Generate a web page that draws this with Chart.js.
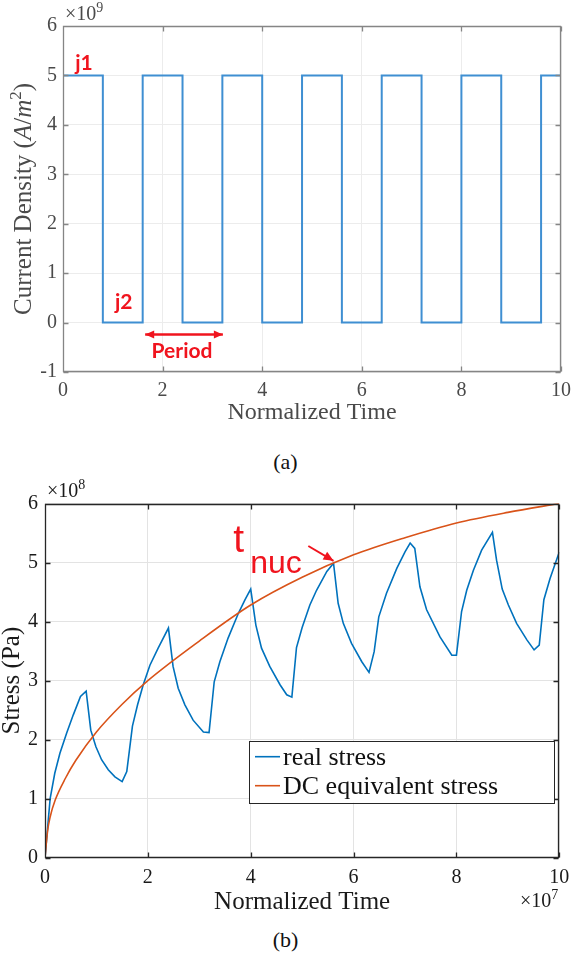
<!DOCTYPE html>
<html>
<head>
<meta charset="utf-8">
<script src="https://cdn.jsdelivr.net/npm/chart.js@4.4.1/dist/chart.umd.min.js"></script>
<style>
  html, body { margin: 0; padding: 0; background: #fff; }
  body { width: 571px; height: 957px; position: relative; overflow: hidden; }
  .box { position: absolute; left: 0; width: 571px; }
  #boxA { top: 0; height: 430px; }
  #boxB { top: 470px; height: 450px; }
  .cap { position: absolute; left: 0; width: 571px; text-align: center; line-height: 26px;
         font: 22px 'Liberation Serif', 'Times New Roman', serif; color: #111; }
</style>
</head>
<body>
<div class="box" id="boxA"><canvas id="chartA"></canvas></div>
<div class="cap" style="top:449px">(a)</div>
<div class="box" id="boxB"><canvas id="chartB"></canvas></div>
<div class="cap" style="top:927px">(b)</div>

<script>
// --- DATA ---
// (a) pulsed current density, y in units of 1e9 A/m^2
const pulseTime    = [0, 0.8, 0.8, 1.6, 1.6, 2.4, 2.4, 3.2, 3.2, 4.0, 4.0, 4.8, 4.8,
                      5.6, 5.6, 6.4, 6.4, 7.2, 7.2, 8.0, 8.0, 8.8, 8.8, 9.6, 9.6, 10];
const pulseDensity = [5, 5, 0, 0, 5, 5, 0, 0, 5, 5, 0, 0, 5,
                      5, 0, 0, 5, 5, 0, 0, 5, 5, 0, 0, 5, 5];

// (b) stress, time in units of 1e7, stress in units of 1e8 Pa
const stressTime = [0, 0.1, 0.19, 0.29, 0.42, 0.55, 0.69, 0.80, 0.89, 0.99, 1.10, 1.23, 1.36, 1.50,
                    1.59, 1.70, 1.80, 1.91, 2.04, 2.20, 2.40, 2.49, 2.59, 2.72, 2.88, 3.08, 3.19,
                    3.29, 3.40, 3.56, 3.76, 3.89, 4.00, 4.10, 4.21, 4.37, 4.57, 4.70, 4.80, 4.89,
                    5.00, 5.15, 5.28, 5.48, 5.61, 5.70, 5.80, 5.96, 6.16, 6.30, 6.40, 6.49, 6.64,
                    6.84, 7.00, 7.10, 7.19, 7.29, 7.42, 7.68, 7.91, 8.00, 8.10, 8.20, 8.33, 8.49,
                    8.70, 8.78, 8.89, 9.01, 9.17, 9.37, 9.51, 9.61, 9.70, 9.82, 10.0];
const realStress = [0, 1.0, 1.43, 1.77, 2.11, 2.42, 2.73, 2.82, 2.16, 1.88, 1.66, 1.49, 1.37, 1.29,
                    1.46, 2.23, 2.59, 2.93, 3.26, 3.55, 3.89, 3.24, 2.87, 2.59, 2.33, 2.13, 2.12,
                    2.98, 3.32, 3.72, 4.14, 4.37, 4.55, 3.94, 3.55, 3.24, 2.93, 2.76, 2.72, 3.56,
                    3.90, 4.28, 4.53, 4.85, 4.99, 4.31, 3.97, 3.63, 3.32, 3.14, 3.49, 4.08, 4.48,
                    4.90, 5.18, 5.33, 5.24, 4.59, 4.20, 3.74, 3.43, 3.43, 4.17, 4.53, 4.87, 5.21,
                    5.51, 5.04, 4.55, 4.28, 3.97, 3.69, 3.52, 3.60, 4.37, 4.73, 5.18];
const dcTime   = [0, 0.05, 0.1, 0.2, 0.4, 0.6, 1, 1.5, 2, 3, 4, 5, 6, 7, 8, 9, 10];
const dcStress = [0, 0.45, 0.69, 0.98, 1.35, 1.65, 2.13, 2.6, 3.0, 3.67, 4.28, 4.75, 5.13, 5.42, 5.67, 5.85, 6.0];

const xTicksA = [0, 2, 4, 6, 8, 10];
const yTicksA = [-1, 0, 1, 2, 3, 4, 5, 6];
const xTicksB = [0, 2, 4, 6, 8, 10];
const yTicksB = [0, 1, 2, 3, 4, 5, 6];

const SERIF = "'Liberation Serif', 'Times New Roman', serif";
const SANS = "'Liberation Sans', Arial, sans-serif";
const RED = '#f0141e';

// --- HELPERS ---
function pts(xs, ys) { return xs.map((x, i) => ({ x: x, y: ys[i] })); }

function setTicks(list) {
  return function (scale) { scale.ticks = list.map(v => ({ value: v })); };
}

// text made of runs with different fonts, centred on (cx, cy)
function drawRich(ctx, segs, cx, cy, rot, base) {
  ctx.save();
  ctx.translate(cx, cy);
  ctx.rotate(rot);
  ctx.textBaseline = 'alphabetic';
  let total = 0;
  segs.forEach(s => { ctx.font = s.font; s.w = ctx.measureText(s.text).width; total += s.w; });
  let x = -total / 2;
  segs.forEach(s => {
    ctx.font = s.font;
    ctx.fillStyle = s.color;
    ctx.fillText(s.text, x, base + (s.dy || 0));
    x += s.w;
  });
  ctx.restore();
}

function arrowHead(ctx, x1, y1, x2, y2, len, wid) {
  const a = Math.atan2(y2 - y1, x2 - x1);
  ctx.beginPath();
  ctx.moveTo(x2, y2);
  ctx.lineTo(x2 - len * Math.cos(a) + wid * Math.sin(a), y2 - len * Math.sin(a) - wid * Math.cos(a));
  ctx.lineTo(x2 - len * Math.cos(a) - wid * Math.sin(a), y2 - len * Math.sin(a) + wid * Math.cos(a));
  ctx.closePath();
  ctx.fill();
}

// MATLAB style box with inward ticks
function makeFrame(color, width, tickLen) {
  return {
    id: 'frame',
    afterDatasetsDraw(chart) {
      const { ctx, chartArea: a, scales } = chart;
      const L = Math.round(a.left) + 0.5, R = Math.round(a.right) - 0.5;
      const T = Math.round(a.top) + 0.5, B = Math.round(a.bottom) - 0.5;
      ctx.save();
      ctx.strokeStyle = color;
      ctx.lineWidth = width;
      ctx.beginPath();
      ctx.rect(L, T, R - L, B - T);
      scales.x.ticks.forEach(t => {
        const px = Math.round(scales.x.getPixelForValue(t.value)) + 0.5;
        ctx.moveTo(px, B); ctx.lineTo(px, B - tickLen);
        ctx.moveTo(px, T); ctx.lineTo(px, T + tickLen);
      });
      scales.y.ticks.forEach(t => {
        const py = Math.round(scales.y.getPixelForValue(t.value)) + 0.5;
        ctx.moveTo(L, py); ctx.lineTo(L + tickLen, py);
        ctx.moveTo(R, py); ctx.lineTo(R - tickLen, py);
      });
      ctx.stroke();
      ctx.restore();
    }
  };
}

// free text, arrows and the axis multipliers
function makeNotes(items) {
  return {
    id: 'notes',
    afterDraw(chart) {
      const { ctx, chartArea: a, scales: { x, y } } = chart;
      items.forEach(it => {
        ctx.save();
        if (it.type === 'text') {
          ctx.font = it.font;
          ctx.fillStyle = it.color;
          ctx.textAlign = it.align || 'center';
          ctx.textBaseline = 'alphabetic';
          ctx.fillText(it.text, x.getPixelForValue(it.x), y.getPixelForValue(it.y));
        } else if (it.type === 'arrow') {
          const x1 = x.getPixelForValue(it.x1), y1 = y.getPixelForValue(it.y1);
          const x2 = x.getPixelForValue(it.x2), y2 = y.getPixelForValue(it.y2);
          ctx.strokeStyle = it.color;
          ctx.fillStyle = it.color;
          ctx.lineWidth = it.width;
          ctx.beginPath();
          ctx.moveTo(x1, y1); ctx.lineTo(x2, y2);
          ctx.stroke();
          arrowHead(ctx, x1, y1, x2, y2, it.head, it.head * 0.45);
          if (it.both) arrowHead(ctx, x2, y2, x1, y1, it.head, it.head * 0.45);
        } else if (it.type === 'pow') {
          const px = it.from === 'right' ? a.right + it.dx : a.left + it.dx;
          const py = it.edge === 'bottom' ? a.bottom + it.dy : a.top + it.dy;
          ctx.fillStyle = it.color;
          ctx.textBaseline = 'alphabetic';
          ctx.font = '20px ' + SERIF;
          const w1 = ctx.measureText('\u00d710').width;
          ctx.font = '14px ' + SERIF;
          const w2 = ctx.measureText(it.exp).width;
          const start = it.from === 'right' ? px - w1 - w2 : px;
          ctx.font = '20px ' + SERIF;
          ctx.fillText('\u00d710', start, py);
          ctx.font = '14px ' + SERIF;
          ctx.fillText(it.exp, start + w1, py - 8);
        } else if (it.type === 'rich') {
          drawRich(ctx, it.segs, it.px, (a.top + a.bottom) / 2, -Math.PI / 2, it.base);
        }
        ctx.restore();
      });
    }
  };
}

// legend box drawn from the dataset labels and colours
function makeLegend(box) {
  return {
    id: 'boxLegend',
    afterDraw(chart) {
      const { ctx, chartArea: a } = chart;
      const right = a.right - box.right, left = right - box.width;
      const bottom = a.bottom - box.bottom, top = bottom - box.height;
      ctx.save();
      ctx.fillStyle = '#fff';
      ctx.fillRect(left, top, box.width, box.height);
      ctx.strokeStyle = '#262626';
      ctx.lineWidth = 1;
      ctx.strokeRect(Math.round(left) + 0.5, Math.round(top) + 0.5, Math.round(box.width), Math.round(box.height));
      ctx.font = box.font;
      ctx.textBaseline = 'middle';
      chart.data.datasets.forEach((ds, i) => {
        const cy = top + box.rows[i];
        ctx.strokeStyle = ds.borderColor;
        ctx.lineWidth = ds.borderWidth;
        ctx.beginPath();
        ctx.moveTo(left + 6, cy); ctx.lineTo(left + 31, cy);
        ctx.stroke();
        ctx.fillStyle = '#111';
        ctx.fillText(ds.label, left + 34, cy + 1);
      });
      ctx.restore();
    }
  };
}

function axisOptions(c) {
  return {
    x: {
      type: 'linear', min: c.xTicks[0], max: c.xTicks[c.xTicks.length - 1],
      afterBuildTicks: setTicks(c.xTicks),
      afterFit: s => { s.height = c.xHeight; s.paddingLeft = 0; s.paddingRight = 0; },
      grid: { color: c.grid, drawTicks: false },
      border: { display: false },
      ticks: { color: c.text, font: { family: SERIF, size: 20 }, padding: c.xPad, maxRotation: 0, autoSkip: false },
      title: { display: true, text: 'Normalized Time', color: c.text,
               font: { family: SERIF, size: c.titleSize }, padding: { top: 0, bottom: c.titlePad } }
    },
    y: {
      type: 'linear', min: c.yTicks[0], max: c.yTicks[c.yTicks.length - 1],
      afterBuildTicks: setTicks(c.yTicks),
      afterFit: s => { s.width = c.yWidth; s.paddingTop = 0; s.paddingBottom = 0; },
      grid: { color: c.grid, drawTicks: false },
      border: { display: false },
      ticks: { color: c.text, font: { family: SERIF, size: 20 }, padding: c.yPad, autoSkip: false }
    }
  };
}

// --- CHART (a) ---
const greyText = '#4a4a4a';
new Chart(document.getElementById('chartA'), {
  type: 'line',
  data: {
    datasets: [{
      label: 'current density',
      data: pts(pulseTime, pulseDensity),
      borderColor: '#3f8fd2',
      borderWidth: 2,
      pointRadius: 0,
      tension: 0
    }]
  },
  options: {
    responsive: true, maintainAspectRatio: false, animation: false,
    layout: { padding: { top: 26, right: 10, left: 0, bottom: 0 } },
    plugins: { legend: { display: false }, tooltip: { enabled: false } },
    scales: axisOptions({ xTicks: xTicksA, yTicks: yTicksA, xHeight: 58, yWidth: 63, grid: '#ececec',
                          text: greyText, xPad: 7, yPad: 6, titleSize: 24, titlePad: 3 })
  },
  plugins: [
    makeFrame('#858585', 1.3, 5),
    makeNotes([
      { type: 'text', x: 0.42, y: 5.11, text: 'j1', font: 'bold 21px Lato, sans-serif', color: RED },
      { type: 'text', x: 1.22, y: 0.27, text: 'j2', font: 'bold 21px Lato, sans-serif', color: RED },
      { type: 'arrow', x1: 1.65, y1: -0.24, x2: 3.21, y2: -0.24, both: true, width: 2.5, head: 9, color: RED },
      { type: 'text', x: 2.39, y: -0.72, text: 'Period', font: 'bold 21px Lato, sans-serif', color: RED },
      { type: 'pow', from: 'left', edge: 'top', dx: 2, dy: -6, exp: '9', color: greyText },
      { type: 'rich', px: 23, base: 8, segs: [
        { text: 'Current Density (', font: '25px ' + SERIF, color: greyText },
        { text: 'A', font: 'italic 25px ' + SERIF, color: greyText },
        { text: '/', font: '25px ' + SERIF, color: greyText },
        { text: 'm', font: 'italic 25px ' + SERIF, color: greyText },
        { text: '2', font: '17px ' + SERIF, color: greyText, dy: -10 },
        { text: ')', font: '25px ' + SERIF, color: greyText }
      ] }
    ])
  ]
});

// --- CHART (b) ---
const darkText = '#1a1a1a';
new Chart(document.getElementById('chartB'), {
  type: 'line',
  data: {
    datasets: [
      { label: 'real stress', data: pts(stressTime, realStress), borderColor: '#0072bd',
        borderWidth: 1.6, pointRadius: 0, tension: 0, order: 1 },
      { label: 'DC equivalent stress', data: pts(dcTime, dcStress), borderColor: '#d95319',
        borderWidth: 1.6, pointRadius: 0, cubicInterpolationMode: 'monotone', order: 0 }
    ]
  },
  options: {
    responsive: true, maintainAspectRatio: false, animation: false,
    layout: { padding: { top: 33.5, right: 11.7, left: 0, bottom: 0 } },
    plugins: { legend: { display: false }, tooltip: { enabled: false } },
    scales: axisOptions({ xTicks: xTicksB, yTicks: yTicksB, xHeight: 62.3, yWidth: 45, grid: '#e3e3e3',
                          text: darkText, xPad: 8, yPad: 7, titleSize: 25, titlePad: 3 })
  },
  plugins: [
    makeFrame('#262626', 1.3, 5),
    makeLegend({ right: 5.3, bottom: 55, width: 305, height: 62, rows: [16, 45], font: '26px ' + SERIF }),
    makeNotes([
      { type: 'text', x: 3.66, y: 5.18, text: 't', font: '39px ' + SANS, color: RED, align: 'left' },
      { type: 'text', x: 3.99, y: 4.82, text: 'nuc', font: '32px ' + SANS, color: RED, align: 'left' },
      { type: 'arrow', x1: 5.12, y1: 5.28, x2: 5.61, y2: 5.03, width: 2, head: 10, color: RED },
      { type: 'pow', from: 'left', edge: 'top', dx: 2, dy: -7, exp: '8', color: darkText },
      { type: 'pow', from: 'right', edge: 'bottom', dx: -1, dy: 49, exp: '7', color: darkText },
      { type: 'rich', px: 11, base: 8, segs: [
        { text: 'Stress (Pa)', font: '25px ' + SERIF, color: darkText }
      ] }
    ])
  ]
});
</script>
</body>
</html>
